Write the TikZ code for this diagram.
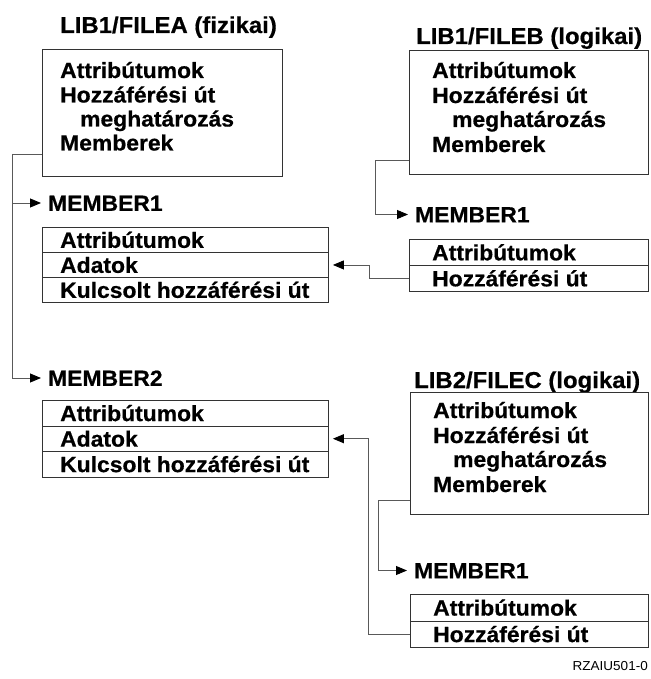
\documentclass[tikz,border=0pt]{standalone}
\usepackage{fontspec}
\setmainfont{Liberation Sans}[FakeStretch=1.04, BoldFeatures={FakeBold=0.6}]
\usetikzlibrary{arrows.meta}

\definecolor{framecol}{gray}{0.2}
\definecolor{wirecol}{gray}{0.35}

\tikzset{
  frame/.style={draw=framecol, line width=0.9pt, inner sep=0pt, anchor=north west},
  txt/.style={font=\fontsize{22}{24}\selectfont\bfseries, inner sep=0pt, anchor=base west},
  title/.style={font=\fontsize{23}{25}\selectfont\bfseries, inner sep=0pt, anchor=base west},
  celltxt/.style={font=\fontsize{22}{24}\selectfont\bfseries, inner sep=0pt,
    text height=15.75pt, text depth=0pt, anchor=west},
  memlabel/.style={celltxt},
  rowL/.style={frame, minimum width=286pt, minimum height=25pt},
  rowL2/.style={frame, minimum width=286pt, minimum height=25.5pt},
  rowR/.style={frame, minimum width=239pt, minimum height=26pt},
  rowR2/.style={frame, minimum width=238pt, minimum height=26.5pt},
  wire/.style={draw=wirecol, line width=0.9pt},
  tip/.style={-{Triangle[length=11pt,width=9pt,color=black]}},
  link/.style={wire, tip, shorten >=7pt},
  backlink/.style={wire, tip, shorten >=4pt},
}

\begin{document}
\begin{tikzpicture}[x=1pt,y=-1pt]
\useasboundingbox (0,0) rectangle (650,679);

% ---------- LIB1/FILEA ----------
\node[title] (tA) at (60,33) {LIB1/FILEA (fizikai)};
\node[frame, minimum width=240pt, minimum height=127pt] (fA) at (42,49) {};
\node[txt] (fA1) at (60,78) {Attribútumok};
\node[txt] (fA2) at (60,102.5) {Hozzáférési út};
\node[txt] (fA3) at (80,126.5) {meghatározás};
\node[txt] (fA4) at (60,150.5) {Memberek};

\node[memlabel] (mA1) at (48,203) {MEMBER1};
\node[rowL] (a1r1) at (42,227) {};
\node[rowL] (a1r2) at (42,252) {};
\node[rowL] (a1r3) at (42,277) {};
\node[celltxt] (a1t1) at ([xshift=18pt]a1r1.west) {Attribútumok};
\node[celltxt] (a1t2) at ([xshift=18pt]a1r2.west) {Adatok};
\node[celltxt] (a1t3) at ([xshift=18pt]a1r3.west) {Kulcsolt hozzáférési út};

\node[memlabel] (mA2) at (48,378) {MEMBER2};
\node[rowL2] (a2r1) at (42,400) {};
\node[rowL2] (a2r2) at (42,425.5) {};
\node[rowL2] (a2r3) at (42,451) {};
\node[celltxt] (a2t1) at ([xshift=18pt]a2r1.west) {Attribútumok};
\node[celltxt] (a2t2) at ([xshift=18pt]a2r2.west) {Adatok};
\node[celltxt] (a2t3) at ([xshift=18pt]a2r3.west) {Kulcsolt hozzáférési út};

% ---------- LIB1/FILEB ----------
\node[title] (tB) at (416,44) {LIB1/FILEB (logikai)};
\node[frame, minimum width=239pt, minimum height=124pt] (fB) at (409,50) {};
\node[txt] (fB1) at (432,78) {Attribútumok};
\node[txt] (fB2) at (432,103) {Hozzáférési út};
\node[txt] (fB3) at (452,127) {meghatározás};
\node[txt] (fB4) at (432,152) {Memberek};

\node[memlabel] (mB1) at (415,214.5) {MEMBER1};
\node[rowR] (b1r1) at (409,239) {};
\node[rowR] (b1r2) at (409,265) {};
\node[celltxt] (b1t1) at ([xshift=23pt]b1r1.west) {Attribútumok};
\node[celltxt] (b1t2) at ([xshift=23pt]b1r2.west) {Hozzáférési út};

% ---------- LIB2/FILEC ----------
\node[title] (tC) at (414,388) {LIB2/FILEC (logikai)};
\node[frame, minimum width=238pt, minimum height=122pt] (fC) at (410,392) {};
\node[txt] (fC1) at (433,418) {Attribútumok};
\node[txt] (fC2) at (433,443) {Hozzáférési út};
\node[txt] (fC3) at (453,467) {meghatározás};
\node[txt] (fC4) at (433,492) {Memberek};

\node[memlabel] (mC1) at (414,570.5) {MEMBER1};
\node[rowR2] (c1r1) at (410,594) {};
\node[rowR2] (c1r2) at (410,620.5) {};
\node[celltxt] (c1t1) at ([xshift=23pt]c1r1.west) {Attribútumok};
\node[celltxt] (c1t2) at ([xshift=23pt]c1r2.west) {Hozzáférési út};

% ---------- member connectors ----------
\coordinate (fAout) at (42,154);
\coordinate (busA) at (12.5,154);
\draw[link] (fAout) -- (busA) |- (mA1);
\draw[link] (busA) |- (mA2);

\coordinate (fBout) at (409,160);
\coordinate (busB) at (375,160);
\draw[link] (fBout) -- (busB) |- (mB1);

\coordinate (fCout) at (410,500);
\coordinate (busC) at (378,500);
\draw[link] (fCout) -- (busC) |- (mC1);

% ---------- logical access paths pointing at the data ----------
\coordinate (crossB) at (369,0);
\coordinate (crossC) at (368,0);
\draw[backlink] (b1r2.west) -- (b1r2.west -| crossB) |- (a1r2.east);
\draw[backlink] (c1r2.west) -- (c1r2.west -| crossC) |- (a2r2.east);

% ---------- figure id ----------
\node[font=\fontsize{13}{15}\selectfont, inner sep=0pt, anchor=base east] (fig) at (648,670) {RZAIU501-0};
\end{tikzpicture}
\end{document}
